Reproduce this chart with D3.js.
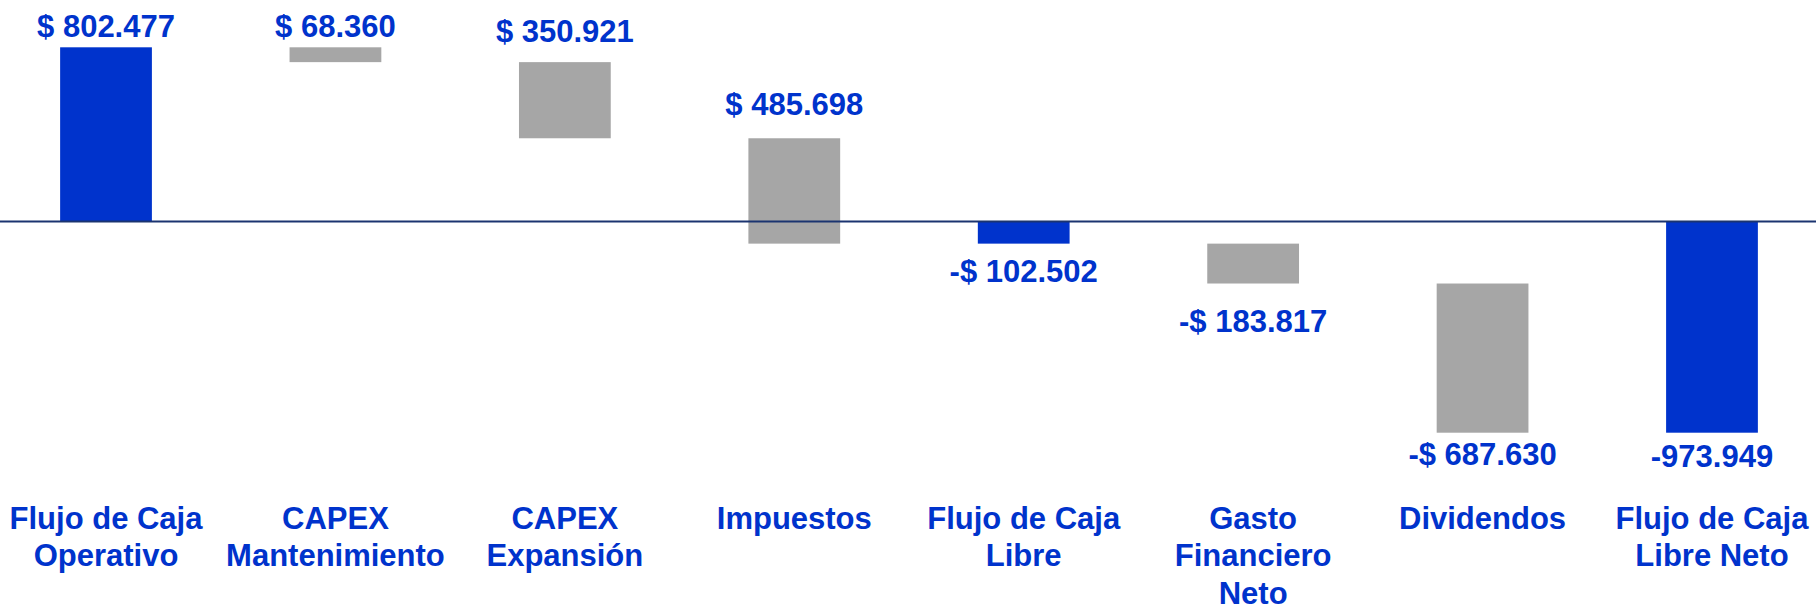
<!DOCTYPE html>
<html>
<head>
<meta charset="utf-8">
<script src="https://cdn.jsdelivr.net/npm/d3@7"></script>
<style>
  body { margin: 0; background: #fff; }
  svg { display: block; }
  text { font-family: "Liberation Sans", Arial, sans-serif; font-weight: bold; fill: #0033cc; }
</style>
</head>
<body>
<svg id="chart"></svg>
<script>
// data
var categories = [
  "Flujo de Caja\nOperativo",
  "CAPEX\nMantenimiento",
  "CAPEX\nExpansión",
  "Impuestos",
  "Flujo de Caja\nLibre",
  "Gasto\nFinanciero\nNeto",
  "Dividendos",
  "Flujo de Caja\nLibre Neto"
];
var values = [802.477, -68.360, -350.921, -485.698, -102.502, -183.817, -687.630, -973.949];
var isTotal = [true, false, false, false, true, false, false, true];
var valueLabels = ["$ 802.477", "$ 68.360", "$ 350.921", "$ 485.698", "-$ 102.502", "-$ 183.817", "-$ 687.630", "-973.949"];

// layout: distance from bar end to label baseline
var labelGap = [10, 10, 20, 23, 38, 48, 32, 34];

var width = 1816;
var height = 606;

function buildSteps() {
  var running = 0;
  return categories.map(function(c, i) {
    var start, end;
    if (isTotal[i]) {
      start = 0;
      end = values[i];
      running = values[i];
    } else {
      start = running;
      end = running + values[i];
      running = end;
    }
    return { name: c, start: start, end: end, total: isTotal[i], label: valueLabels[i], gap: labelGap[i] };
  });
}

function drawChart() {
  var steps = buildSteps();

  var svg = d3.select("#chart")
    .attr("width", width)
    .attr("height", height);

  var x = d3.scaleBand()
    .domain(categories)
    .range([-8.7, 1826.7])
    .paddingInner(0.6)
    .paddingOuter(0.3);

  var y = d3.scaleLinear()
    .domain([d3.min(values), d3.max(values)])
    .range([432.7, 47.3]);

  svg.selectAll(".bar")
    .data(steps)
    .enter()
    .append("rect")
      .attr("class", "bar")
      .attr("x", d => x(d.name))
      .attr("width", x.bandwidth())
      .attr("y", d => y(Math.max(d.start, d.end)))
      .attr("height", d => Math.abs(y(d.start) - y(d.end)))
      .attr("fill", d => d.total ? "#0033cc" : "#a6a6a6");

  // zero line
  svg.append("line")
    .attr("x1", 0)
    .attr("x2", width)
    .attr("y1", y(0))
    .attr("y2", y(0))
    .attr("stroke", "#1b3470")
    .attr("stroke-width", 2);

  // value labels
  svg.selectAll(".value")
    .data(steps)
    .enter()
    .append("text")
      .attr("class", "value")
      .attr("x", d => x(d.name) + x.bandwidth() / 2)
      .attr("y", d => {
        var up = d.label.charAt(0) !== "-";
        return up ? y(Math.max(d.start, d.end)) - d.gap
                  : y(Math.min(d.start, d.end)) + d.gap;
      })
      .attr("text-anchor", "middle")
      .style("font-size", "31px")
      .text(d => d.label);

  // category labels
  var cat = svg.selectAll(".cat")
    .data(steps)
    .enter()
    .append("text")
      .attr("class", "cat")
      .attr("x", d => x(d.name) + x.bandwidth() / 2)
      .attr("y", 529)
      .attr("text-anchor", "middle")
      .style("font-size", "31px");

  cat.selectAll("tspan")
    .data(d => d.name.split("\n").map(t => ({ t: t, cx: x(d.name) + x.bandwidth() / 2 })))
    .enter()
    .append("tspan")
      .attr("x", d => d.cx)
      .attr("dy", (d, i) => i === 0 ? 0 : 37.3)
      .text(d => d.t);
}

drawChart();
</script>
</body>
</html>
